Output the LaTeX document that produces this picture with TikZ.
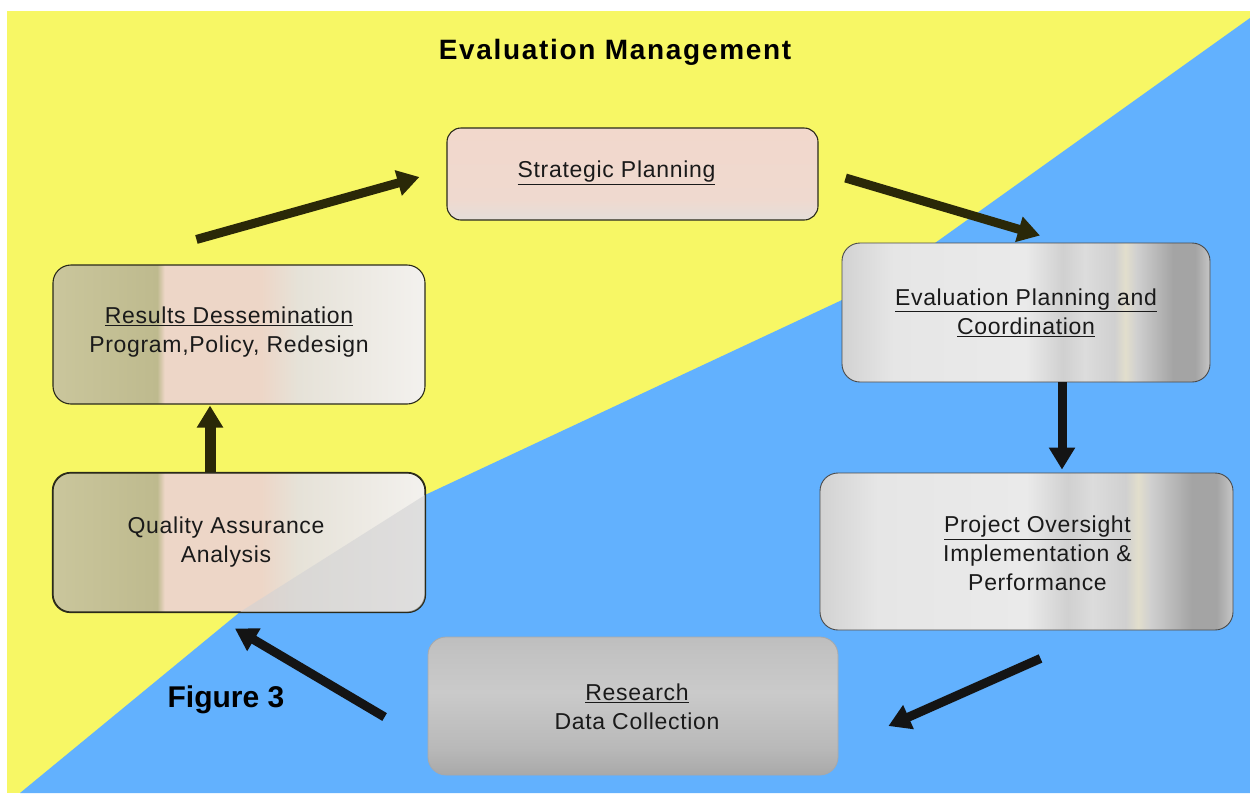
\documentclass[tikz,border=0pt]{standalone}
\usepackage{fontspec}
\setmainfont{Liberation Sans}
\newfontfamily\boxfont[LetterSpace=3]{Liberation Sans}
\newfontfamily\titlefont[LetterSpace=6]{Liberation Sans}
\usetikzlibrary{arrows.meta}

\definecolor{bgyellow}{HTML}{F7F765}
\definecolor{bgblue}{HTML}{62B1FE}
\definecolor{boxline}{HTML}{2A2A1A}
\definecolor{metalline}{HTML}{4A4A4A}
\definecolor{txtc}{HTML}{1A1A1A}
\definecolor{arrolive}{HTML}{2A2808}
\definecolor{arrblack}{HTML}{141414}
\definecolor{overlaygray}{HTML}{D2D2D4}

\definecolor{kh}{HTML}{CAC69C}
\definecolor{khd}{HTML}{BEBA8E}
\definecolor{pk}{HTML}{EDD6C7}
\definecolor{ltA}{HTML}{E6E2D8}
\definecolor{ltB}{HTML}{F3F1EE}
\pgfdeclarehorizontalshading{khakishade}{100bp}{color(0bp)=(kh); color(25bp)=(kh); color(39bp)=(khd); color(40bp)=(pk); color(53bp)=(pk); color(58bp)=(ltA); color(75bp)=(ltB); color(100bp)=(ltB)}

\definecolor{mA}{HTML}{D2D2D2}
\definecolor{mB}{HTML}{E6E6E6}
\definecolor{mC}{HTML}{EAEAEA}
\definecolor{mD}{HTML}{D0D0D0}
\definecolor{mE}{HTML}{DCDCDC}
\definecolor{mF}{HTML}{E2DECC}
\definecolor{mG}{HTML}{A4A4A4}
\definecolor{mH}{HTML}{C6C6C6}
\pgfdeclarehorizontalshading{metalshade}{100bp}{color(0bp)=(mA); color(25bp)=(mA); color(32bp)=(mB); color(50bp)=(mC); color(55bp)=(mD); color(58bp)=(mE); color(62bp)=(mD); color(63.5bp)=(mF); color(65bp)=(mD); color(70bp)=(mG); color(73bp)=(mG); color(75bp)=(mH); color(100bp)=(mH)}

\definecolor{sA}{HTML}{E4DEDA}
\definecolor{sB}{HTML}{EFD9CF}
\definecolor{sC}{HTML}{F2D8CC}
\pgfdeclareverticalshading{spshade}{100bp}{color(0bp)=(sA); color(25bp)=(sA); color(36bp)=(sB); color(75bp)=(sC); color(100bp)=(sC)}

\definecolor{rA}{HTML}{A9A9A9}
\definecolor{rB}{HTML}{B9B9B9}
\definecolor{rC}{HTML}{CACACA}
\definecolor{rD}{HTML}{C2C2C2}
\definecolor{rE}{HTML}{BEBEBE}
\pgfdeclareverticalshading{rsshade}{100bp}{color(0bp)=(rA); color(25bp)=(rA); color(35bp)=(rB); color(55bp)=(rC); color(70bp)=(rD); color(75bp)=(rE); color(100bp)=(rE)}

\tikzset{
  box/.style={rounded corners=18pt, draw=boxline, line width=1.1pt, inner sep=0pt},
  metalbox/.style={box, draw=metalline, line width=0.9pt, shading=metalshade},
  lbl/.style={font=\boxfont\fontsize{23}{29}\selectfont, text=txtc, align=center, inner sep=0pt},
  arr/.style={line width=9pt, -{Triangle[length=22pt,width=25pt]}},
}

\begin{document}
\begin{tikzpicture}[x=1pt,y=-1pt]
\useasboundingbox (0,0) rectangle (1250,793);
% background
\fill[white] (0,0) rectangle (1250,793);
\fill[bgyellow] (7,11) rectangle (1250,793);
\fill[bgblue] (1250,18) -- (935,243) -- (842,300) -- (425,495) -- (240,612) -- (20,793) -- (1250,793) -- cycle;

% title
\node[font=\titlefont\bfseries\fontsize{28}{32}\selectfont, text=black] (title) at (615,52) {Evaluation Management};
\node[font=\bfseries\fontsize{30}{34}\selectfont, text=black] (fig) at (226,700) {Figure 3};

% boxes
\node[box, shading=spshade, rounded corners=14pt, minimum width=371pt, minimum height=92pt] (sp) at (632.5,174) {};
\node[metalbox, minimum width=368pt, minimum height=139pt] (epc) at (1026,312.5) {};
\node[metalbox, minimum width=413pt, minimum height=157pt] (po) at (1026.5,551.5) {};
\node[box, draw=rA, line width=0.8pt, shading=rsshade, minimum width=410pt, minimum height=138pt] (rs) at (633,706) {};
\node[box, shading=khakishade, minimum width=372pt, minimum height=139pt] (qa) at (239,542.5) {};
\node[box, shading=khakishade, minimum width=372pt, minimum height=139pt] (rd) at (239,334.5) {};

% translucent shadow of the blue area inside the quality box
\begin{scope}
  \clip[rounded corners=18pt] (qa.north west) rectangle (qa.south east);
  \fill[overlaygray, opacity=0.6] (425,495) -- (240,612) -- (425,612) -- cycle;
\end{scope}
\draw[boxline, line width=1.1pt, rounded corners=18pt] (qa.north west) rectangle (qa.south east);

% texts
\node[lbl] (sp-t) at ([shift={(-16,-1)}]sp.center) {\underline{Strategic Planning}};
\node[lbl] (epc-t) at (epc.center) {\underline{Evaluation Planning and}\\\underline{Coordination}};
\node[lbl] (po-t) at ([shift={(11,2)}]po.center) {\underline{Project Oversight}\\Implementation \&\\Performance};
\node[lbl] (rs-t) at ([shift={(4,1)}]rs.center) {\underline{Research}\\Data Collection};
\node[lbl] (qa-t) at ([shift={(-13,0)}]qa.center) {Quality Assurance\\Analysis};
\node[lbl] (rd-t) at ([shift={(-10,-2)}]rd.center) {\underline{Results Dessemination}\\Program,Policy, Redesign};

% connectors
\draw[arr, arrolive] ([shift={(144,-25)}]rd.north west) -- ([shift={(-27,3)}]sp.west);
\draw[arr, arrolive] ([shift={(27,4)}]sp.east) -- ([shift={(14,-7)}]epc.north);
\draw[arr, arrblack] ([shift={(36,0)}]epc.south) -- ([shift={(35.5,-3)}]po.north);
\draw[arr, arrblack] ([shift={(14,28)}]po.south) -- ([shift={(50,20)}]rs.east);
\draw[arr, arrblack] ([shift={(-43,11)}]rs.west) -- ([shift={(-4,16)}]qa.south);
\draw[arr, arrolive, line width=11pt] ([shift={(-29,0)}]qa.north) -- ([shift={(-29,1)}]rd.south);
\end{tikzpicture}
\end{document}
